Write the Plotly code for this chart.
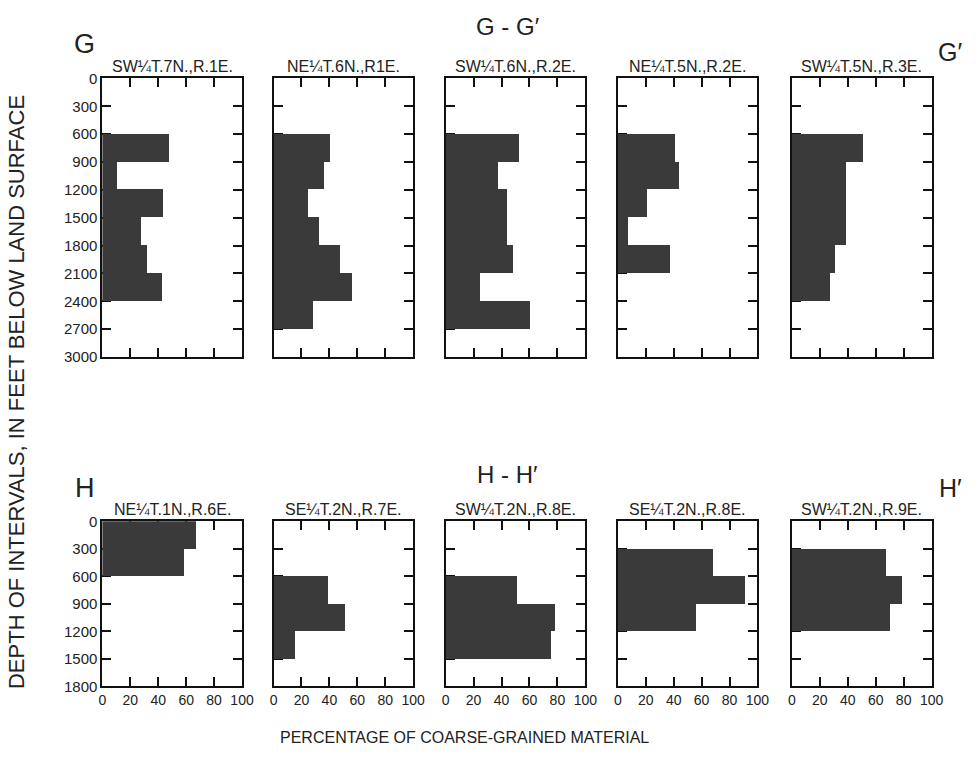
import plotly.graph_objects as go

# ---------------- data ----------------
# G-G' section: intervals of 300 ft from 0 to 3000 ft (value = % coarse-grained; None = no data)
g_depth_tops = [0, 300, 600, 900, 1200, 1500, 1800, 2100, 2400, 2700]
g_titles = ["SW¼T.7N.,R.1E.", "NE¼T.6N.,R1E.", "SW¼T.6N.,R.2E.", "NE¼T.5N.,R.2E.", "SW¼T.5N.,R.3E."]
g1 = [None, None, 48, 11, 44, 28, 32, 43, None, None]
g2 = [None, None, 40, 36, 24, 32, 47, 56, 28, None]
g3 = [None, None, 52, 37, 44, 44, 48, 24, 60, None]
g4 = [None, None, 41, 44, 21, 7, 37, None, None, None]
g5 = [None, None, 51, 39, 39, 39, 31, 27, None, None]

# H-H' section: intervals of 300 ft from 0 to 1800 ft
h_depth_tops = [0, 300, 600, 900, 1200, 1500]
h_titles = ["NE¼T.1N.,R.6E.", "SE¼T.2N.,R.7E.", "SW¼T.2N.,R.8E.", "SE¼T.2N.,R.8E.", "SW¼T.2N.,R.9E."]
h1 = [67, 59, None, None, None, None]
h2 = [None, None, 39, 51, 15, None]
h3 = [None, None, 51, 78, 75, None]
h4 = [None, 68, 91, 56, None, None]
h5 = [None, 67, 79, 70, None, None]

g_ticks = [0, 300, 600, 900, 1200, 1500, 1800, 2100, 2400, 2700, 3000]
h_ticks = [0, 300, 600, 900, 1200, 1500, 1800]
x_ticks = [0, 20, 40, 60, 80, 100]
interval = 300

# ---------------- layout geometry ----------------
W, H = 978, 760
panel_left = [100, 274, 449, 624, 801]
panel_w = 142
top_row = (71, 356)
bot_row = (524, 693)

FONT = "Liberation Sans Narrow, Arial Narrow, Liberation Sans, Arial, sans-serif"
BAR = "#3a3a3a"

fig = go.Figure()
layout = {}
annotations = []

rows = [
    (g_depth_tops, [g1, g2, g3, g4, g5], g_titles, g_ticks, top_row, 3000, False),
    (h_depth_tops, [h1, h2, h3, h4, h5], h_titles, h_ticks, bot_row, 1800, True),
]

k = 0
for tops, series, titles, yt, (ytop, ybot), ymax, show_x in rows:
    for i, vals in enumerate(series):
        k += 1
        xa = "x" if k == 1 else f"x{k}"
        ya = "y" if k == 1 else f"y{k}"
        mids = [t + interval / 2 for t, v in zip(tops, vals) if v is not None]
        xs = [v for v in vals if v is not None]
        fig.add_trace(go.Bar(
            x=xs, y=mids, orientation="h", width=interval, base=0,
            marker=dict(color=BAR, line=dict(width=0)),
            xaxis=xa, yaxis=ya, showlegend=False, hoverinfo="x+y",
        ))
        x0 = panel_left[i] / W
        x1 = (panel_left[i] + panel_w) / W
        d_y = [1 - ybot / H, 1 - ytop / H]
        layout["xaxis" if k == 1 else f"xaxis{k}"] = dict(
            domain=[x0, x1], range=[0, 100], anchor=ya,
            tickvals=x_ticks, ticks="inside", ticklen=9, tickwidth=1.5,
            tickcolor="#111", showline=True, linecolor="#111", linewidth=2,
            mirror="ticks", showgrid=False, zeroline=False,
            showticklabels=show_x, fixedrange=True, layer="below traces",
            tickfont=dict(family=FONT, size=14, color="#222"),
        )
        layout["yaxis" if k == 1 else f"yaxis{k}"] = dict(
            domain=d_y, range=[ymax, 0], anchor=xa,
            tickvals=yt, ticks="inside", ticklen=9, tickwidth=1.5,
            tickcolor="#111", showline=True, linecolor="#111", linewidth=2,
            mirror="ticks", showgrid=False, zeroline=False,
            showticklabels=(i == 0), fixedrange=True, layer="below traces",
            tickfont=dict(family=FONT, size=15, color="#222"),
        )
        annotations.append(dict(
            text=titles[i], x=(x0 + x1) / 2, y=d_y[1], xref="paper", yref="paper",
            xanchor="center", yanchor="bottom", yshift=1, showarrow=False,
            font=dict(family=FONT, size=16, color="#222"),
        ))

def big(text, px, py, size=24, anchor="center"):
    annotations.append(dict(
        text=text, x=px / W, y=1 - py / H, xref="paper", yref="paper",
        xanchor=anchor, yanchor="middle", showarrow=False,
        font=dict(family="Liberation Sans, Arial, sans-serif", size=size, color="#222"),
    ))

big("G", 82, 36, 27)
big("G - G′", 512, 18, 24)
big("G′", 962, 44, 25)
big("H", 82, 490, 27)
big("H - H′", 512, 476, 24)
big("H′", 962, 490, 25)

annotations.append(dict(
    text="DEPTH OF INTERVALS, IN FEET BELOW LAND SURFACE", x=12 / W, y=1 - 392 / H,
    xref="paper", yref="paper", xanchor="center", yanchor="middle", textangle=-90,
    showarrow=False, font=dict(family=FONT, size=22, color="#222"),
))
annotations.append(dict(
    text="PERCENTAGE OF COARSE-GRAINED MATERIAL", x=468 / W, y=1 - 745 / H,
    xref="paper", yref="paper", xanchor="center", yanchor="middle",
    showarrow=False, font=dict(family=FONT, size=16, color="#222"),
))

fig.update_layout(
    width=W, height=H, margin=dict(l=0, r=0, t=0, b=0),
    paper_bgcolor="white", plot_bgcolor="white",
    annotations=annotations, bargap=0, **layout,
)

fig.write_html("out.html")
